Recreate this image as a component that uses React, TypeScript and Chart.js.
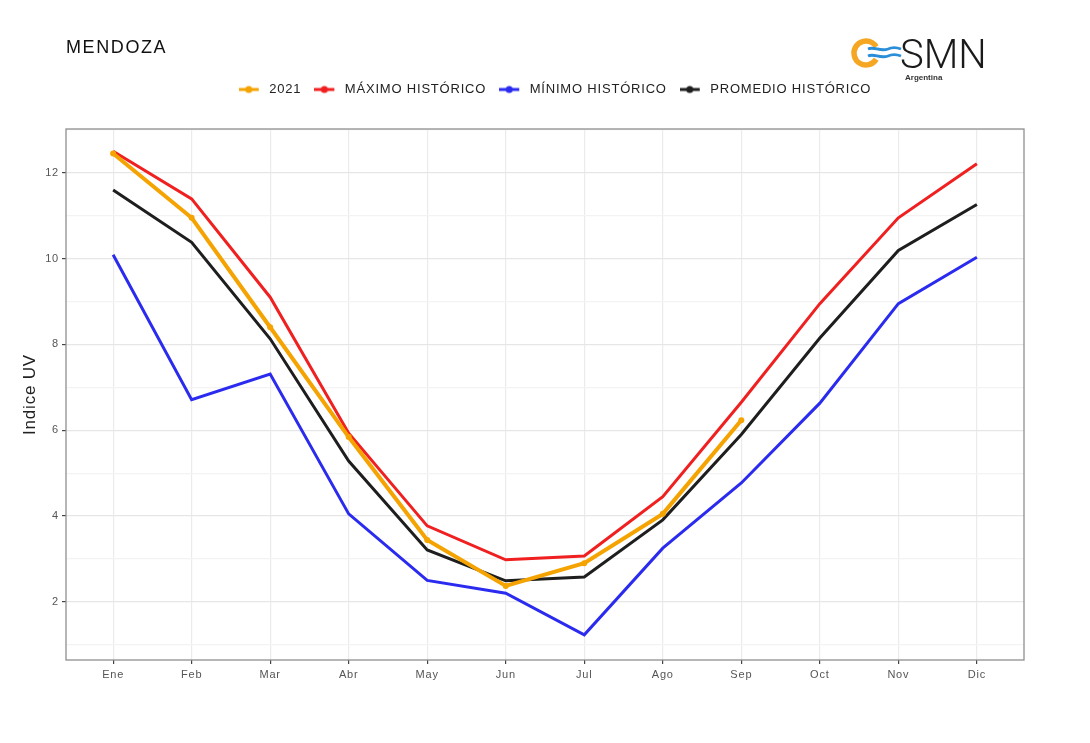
import React, { useEffect, useRef } from 'react';
import Chart from 'chart.js/auto';

const months = ['Ene', 'Feb', 'Mar', 'Abr', 'May', 'Jun', 'Jul', 'Ago', 'Sep', 'Oct', 'Nov', 'Dic'];
const uv2021 = [12.45, 10.95, 8.4, 5.84, 3.44, 2.37, 2.9, 4.05, 6.23, null, null, null];
const maxHist = [12.5, 11.39, 9.1, 5.93, 3.77, 2.98, 3.07, 4.45, 6.65, 8.95, 10.95, 12.21];
const minHist = [10.09, 6.71, 7.31, 4.05, 2.5, 2.2, 1.23, 3.25, 4.77, 6.63, 8.95, 10.03];
const avgHist = [11.6, 10.38, 8.13, 5.28, 3.21, 2.49, 2.58, 3.91, 5.9, 8.15, 10.19, 11.26];
const seriesNames = ['2021', 'MÁXIMO HISTÓRICO', 'MÍNIMO HISTÓRICO', 'PROMEDIO HISTÓRICO'];
const seriesColors = ['#f5a300', '#f02020', '#2b2bf0', '#1e1e1e'];
const majorY = [2, 4, 6, 8, 10, 12];

const FONT = '"Liberation Sans", Arial, sans-serif';

// legend key: short line with a dot, plus a bit of blank space on the right
function legendKey(color: string) {
  const c = document.createElement('canvas');
  c.width = 24;
  c.height = 10;
  const g = c.getContext('2d')!;
  g.strokeStyle = color;
  g.lineWidth = 3;
  g.beginPath();
  g.moveTo(0, 5);
  g.lineTo(20, 5);
  g.stroke();
  g.fillStyle = color;
  g.beginPath();
  g.arc(10, 5, 3.5, 0, Math.PI * 2);
  g.fill();
  return c;
}

const spacing = {
  id: 'spacing',
  beforeLayout(chart: any) {
    chart.ctx.letterSpacing = '0.8px';
  },
  beforeDraw(chart: any) {
    chart.ctx.letterSpacing = '0.8px';
  },
};

const decor = {
  id: 'decor',
  afterDraw(chart: any) {
    const { ctx, chartArea: a } = chart;
    ctx.save();
    // panel border
    ctx.strokeStyle = '#8f8f8f';
    ctx.lineWidth = 1.3;
    ctx.strokeRect(a.left, a.top, a.right - a.left, a.bottom - a.top);

    // title
    ctx.letterSpacing = '1.6px';
    ctx.fillStyle = '#111';
    ctx.font = `18px ${FONT}`;
    ctx.textBaseline = 'alphabetic';
    ctx.textAlign = 'left';
    ctx.fillText('MENDOZA', 66, 53);

    // SMN logo
    ctx.letterSpacing = '0px';
    ctx.strokeStyle = '#f5a623';
    ctx.lineWidth = 5.5;
    ctx.beginPath();
    ctx.arc(866, 53, 12, 0.55, Math.PI * 2 - 0.55);
    ctx.stroke();
    ctx.strokeStyle = '#2a8fd8';
    ctx.lineWidth = 2.8;
    for (const yy of [49, 56]) {
      ctx.beginPath();
      ctx.moveTo(868, yy);
      ctx.bezierCurveTo(874, yy - 3, 880, yy + 3, 888, yy);
      ctx.bezierCurveTo(892, yy - 2, 896, yy - 2, 901, yy);
      ctx.stroke();
    }
    ctx.fillStyle = '#1a1a1a';
    ctx.font = `300 40px Roboto, ${FONT}`;
    ctx.fillText('SMN', 900, 68);
    ctx.fillStyle = '#333';
    ctx.font = `bold 8px ${FONT}`;
    ctx.fillText('Argentina', 905, 80);
    ctx.restore();
  },
};

// invisible axis used only to reserve space
const spacer = (position: string, size: number) => ({
  type: 'linear',
  position,
  display: true,
  grid: { display: false },
  border: { display: false },
  ticks: { display: false },
  afterFit: (s: any) => {
    if (position === 'top') s.height = size;
    else s.width = size;
  },
});

export default function App() {
  const chartRef = useRef<HTMLCanvasElement>(null);

  useEffect(() => {
    const keys = seriesColors.map(legendKey);
    const mk = (i: number, values: (number | null)[], width: number, points: boolean) => ({
      label: seriesNames[i],
      data: values.map((v, x) => ({ x, y: v })),
      xAxisID: 'x',
      yAxisID: 'y',
      borderColor: seriesColors[i],
      backgroundColor: seriesColors[i],
      borderWidth: width,
      pointRadius: points ? 3 : 0,
      pointHoverRadius: 0,
      pointBorderWidth: 0,
      tension: 0,
      spanGaps: false,
    });

    const chart = new Chart(chartRef.current!, {
      type: 'line',
      data: {
        datasets: [
          mk(0, uv2021, 4, true),
          mk(1, maxHist, 3, false),
          mk(2, minHist, 3, false),
          mk(3, avgHist, 3, false),
        ],
      },
      options: {
        animation: false,
        responsive: false,
        events: [],
        layout: { padding: { top: 70, left: 20, right: 0, bottom: 0 } },
        plugins: {
          tooltip: { enabled: false },
          legend: {
            position: 'top',
            labels: {
              usePointStyle: true,
              pointStyleWidth: 24,
              boxHeight: 10,
              padding: 13,
              color: '#222',
              font: { family: FONT, size: 13 },
              generateLabels: (c: any) => {
                const base = Chart.defaults.plugins.legend.labels.generateLabels(c);
                return base.map((l: any, i: number) => ({ ...l, pointStyle: keys[i], lineWidth: 0 }));
              },
            },
          },
        },
        scales: {
          x: {
            type: 'linear',
            min: -0.6,
            max: 11.6,
            afterBuildTicks: (s: any) => {
              s.ticks = months.map((_, i) => ({ value: i }));
            },
            afterFit: (s: any) => {
              s.height = 83;
            },
            border: { display: false },
            grid: { color: '#ebebeb', lineWidth: 1.2, tickLength: 4, tickColor: '#444' },
            ticks: {
              autoSkip: false,
              maxRotation: 0,
              padding: 4,
              color: '#555',
              font: { family: FONT, size: 11 },
              callback: (v: any) => months[v] ?? '',
            },
          },
          y: {
            min: 0.644,
            max: 13.02,
            afterBuildTicks: (s: any) => {
              const t = [];
              for (let v = 1; v <= 13; v++) t.push({ value: v });
              s.ticks = t;
            },
            afterFit: (s: any) => {
              s.width = 46;
            },
            border: { display: false },
            grid: {
              color: (c: any) => (majorY.includes(c.tick?.value) ? '#e6e6e6' : '#f3f3f3'),
              lineWidth: 1.2,
              tickLength: 4,
              tickColor: (c: any) => (majorY.includes(c.tick?.value) ? '#444' : 'rgba(0,0,0,0)'),
            },
            title: {
              display: true,
              text: 'Indice UV',
              color: '#222',
              padding: { top: 0, bottom: 0 },
              font: { family: FONT, size: 17 },
            },
            ticks: {
              padding: 3,
              color: '#555',
              font: { family: FONT, size: 11 },
              callback: (v: any) => (majorY.includes(v) ? String(v) : ''),
            },
          },
          gapTop: spacer('top', 23),
          gapRight: spacer('right', 66),
        },
      },
      plugins: [spacing, decor],
    });

    return () => {
      chart.destroy();
    };
  }, []);

  return (
    <div style={{ position: 'absolute', left: 0, top: 0, width: 1090, height: 743, background: '#fff' }}>
      <canvas ref={chartRef} width={1090} height={743} style={{ width: 1090, height: 743 }} />
    </div>
  );
}
